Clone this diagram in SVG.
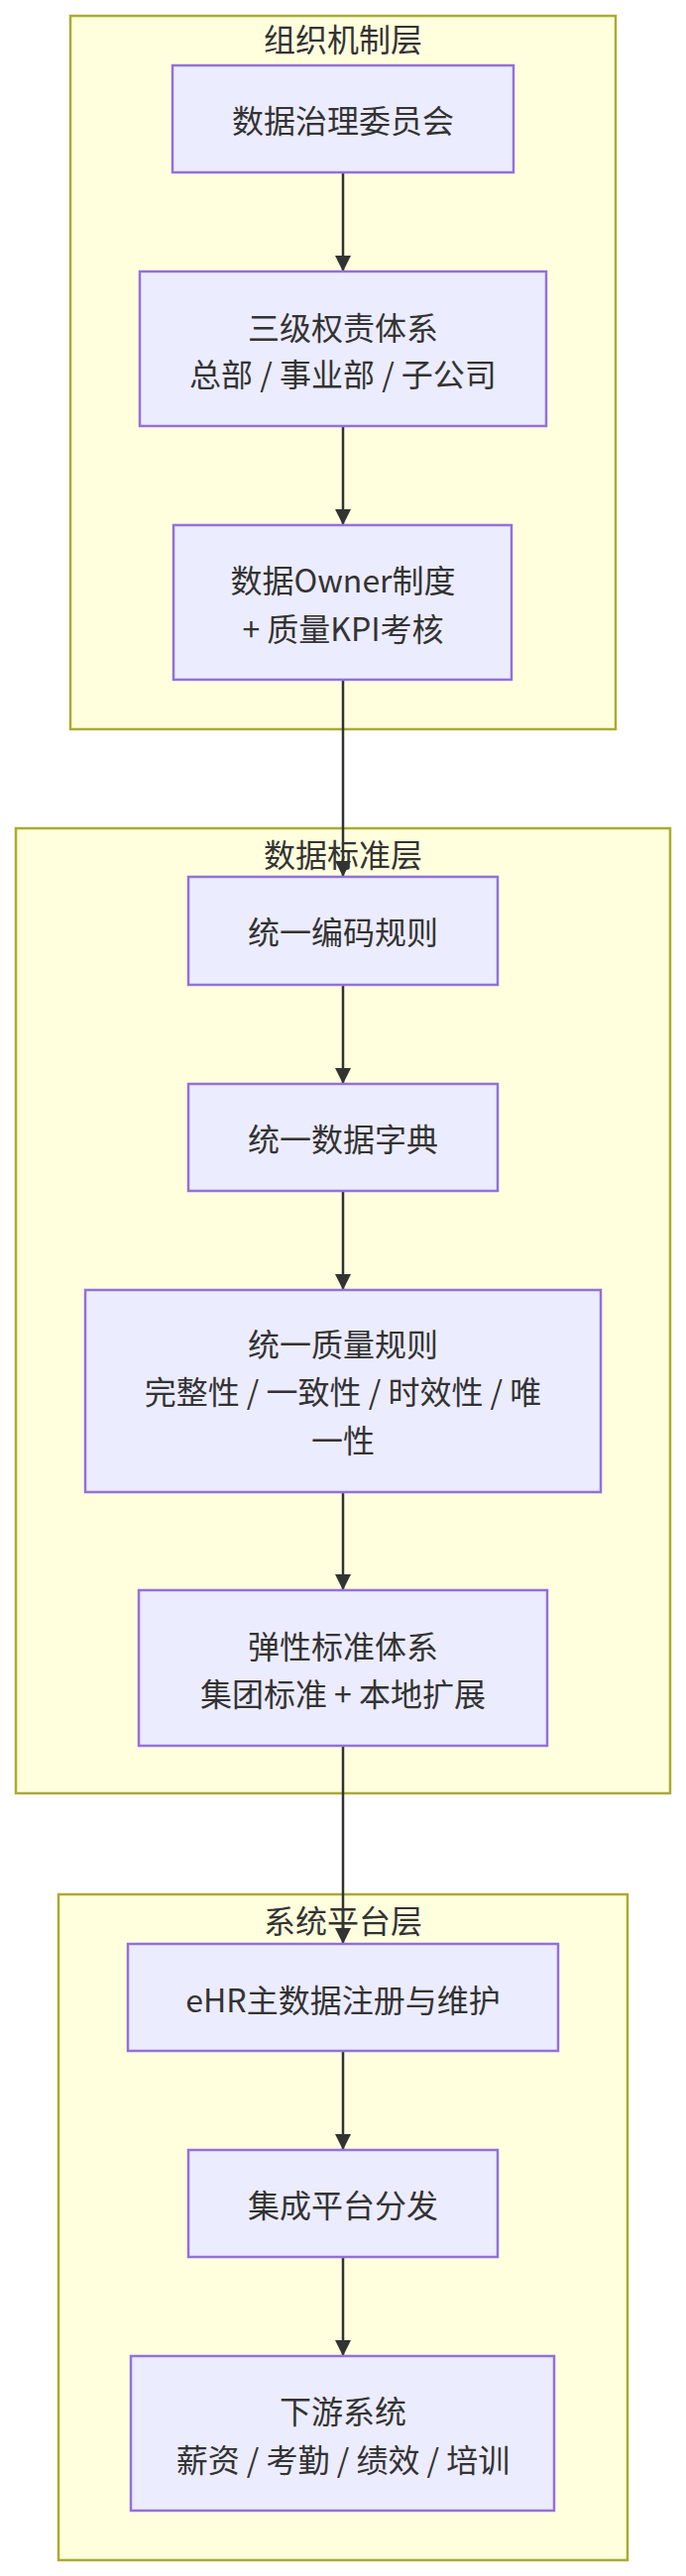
<svg xmlns="http://www.w3.org/2000/svg" width="692" height="2600" viewBox="0 0 692 2600">
<style>
.c{fill:#ffffde;stroke:#aaaa33;stroke-width:2.5}
.n{fill:#ececff;stroke:#9370db;stroke-width:2.5}
text{font-family:"Noto Sans CJK SC","Noto Sans",sans-serif;font-size:32px;fill:#333;text-anchor:middle;dominant-baseline:central}
.e{stroke:#333;stroke-width:2.5;fill:none;marker-end:url(#a)}
</style>
<defs><marker id="a" viewBox="0 0 10 10" refX="10" refY="5" markerWidth="6.5" markerHeight="6.5" markerUnits="strokeWidth" orient="auto"><path d="M0,0L10,5L0,10z" fill="#333"/></marker></defs>
<g id="cluster1"><rect class="c" x="71" y="16" width="550" height="720"/><text x="346" y="38">组织机制层</text></g>
<g id="cluster2"><rect class="c" x="16" y="836" width="660" height="974"/><text x="346" y="861">数据标准层</text></g>
<g id="cluster3"><rect class="c" x="59" y="1912" width="574" height="672"/><text x="346" y="1937">系统平台层</text></g>
<g id="edges">
<path class="e" d="M346,174V274"/>
<path class="e" d="M346,430V530"/>
<path class="e" d="M346,686V885"/>
<path class="e" d="M346,994V1094"/>
<path class="e" d="M346,1202V1302"/>
<path class="e" d="M346,1506V1605"/>
<path class="e" d="M346,1762V1962"/>
<path class="e" d="M346,2070V2170"/>
<path class="e" d="M346,2278V2378"/>
</g>
<g id="n1"><rect class="n" x="174" y="66" width="344" height="108"/><text x="346" y="120">数据治理委员会</text></g>
<g id="n2"><rect class="n" x="141" y="274" width="410" height="156"/><text x="346" y="329">三级权责体系</text><text x="346" y="376">总部 / 事业部 / 子公司</text></g>
<g id="n3"><rect class="n" x="175" y="530" width="341" height="156"/><text x="346" y="584">数据Owner制度</text><text x="346" y="633">+ 质量KPI考核</text></g>
<g id="n4"><rect class="n" x="190" y="885" width="312" height="109"/><text x="346" y="939">统一编码规则</text></g>
<g id="n5"><rect class="n" x="190" y="1094" width="312" height="108"/><text x="346" y="1148">统一数据字典</text></g>
<g id="n6"><rect class="n" x="86" y="1302" width="520" height="204"/><text x="346" y="1355">统一质量规则</text><text x="346" y="1403">完整性 / 一致性 / 时效性 / 唯</text><text x="346" y="1452">一性</text></g>
<g id="n7"><rect class="n" x="140" y="1605" width="412" height="157"/><text x="346" y="1660">弹性标准体系</text><text x="346" y="1708">集团标准 + 本地扩展</text></g>
<g id="n8"><rect class="n" x="129" y="1962" width="434" height="108"/><text x="346" y="2017">eHR主数据注册与维护</text></g>
<g id="n9"><rect class="n" x="190" y="2170" width="312" height="108"/><text x="346" y="2224">集成平台分发</text></g>
<g id="n10"><rect class="n" x="132" y="2378" width="427" height="156"/><text x="346" y="2432">下游系统</text><text x="346" y="2481">薪资 / 考勤 / 绩效 / 培训</text></g>
</svg>
